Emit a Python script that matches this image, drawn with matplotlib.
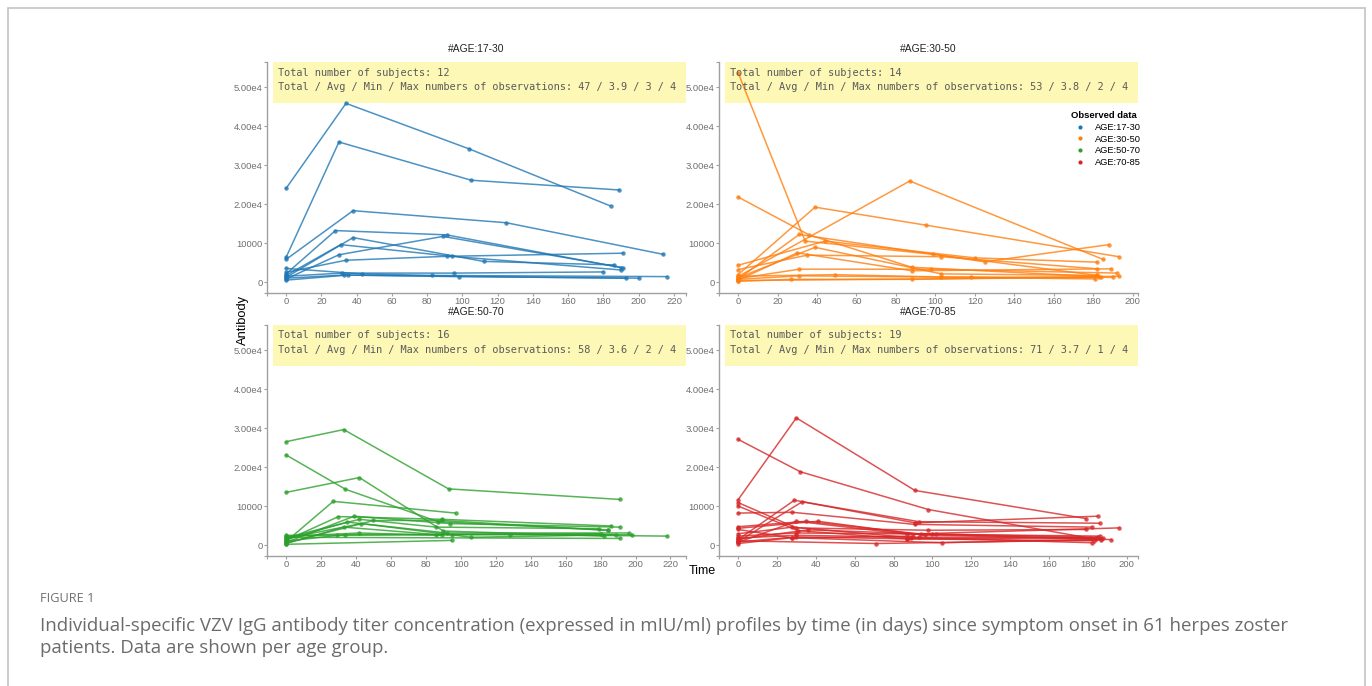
import matplotlib
matplotlib.use('Agg')
import matplotlib.pyplot as plt
from matplotlib.lines import Line2D
from matplotlib.patches import Rectangle
from matplotlib.ticker import MultipleLocator, FuncFormatter

plt.rcParams['font.family'] = ['Liberation Sans', 'DejaVu Sans']

groups = ['AGE:17-30', 'AGE:30-50', 'AGE:50-70', 'AGE:70-85']
colors = ['#1f77b4', '#ff7f0e', '#2ca02c', '#d62728']

# days since symptom onset / IgG titer (mIU/ml), one inner list per subject
days_17_30 = [[0, 34, 104, 184], [0, 30, 105, 189], [0, 38, 125, 214], [0, 28, 91, 190],
              [0, 38, 112, 186], [0, 31, 94, 190], [0, 30, 89, 191], [0, 34, 91, 191],
              [0, 32, 95, 180], [0, 35, 98, 200], [0, 43, 83, 216], [0, 33, 193]]
igg_17_30 = [[24100, 45900, 34200, 19600], [6400, 36000, 26200, 23700], [5900, 18400, 15300, 7200],
             [2200, 13300, 12200, 3800], [1300, 11500, 5400, 4500], [1800, 9700, 6700, 3200],
             [900, 7100, 11800, 3800], [2600, 5700, 6700, 7500], [1600, 2400, 2400, 2700],
             [600, 1900, 1500, 1100], [3600, 2200, 1800, 1500], [1100, 1900, 1100]]

days_30_50 = [[0, 34, 99, 182], [0, 36, 88, 183], [0, 87, 185], [0, 39, 95, 193],
              [0, 31, 125, 188], [0, 44, 120, 182], [0, 35, 103, 182], [0, 30, 88, 189],
              [0, 31, 98, 192], [0, 49, 103, 190], [0, 31, 118, 181], [0, 27, 88, 193],
              [0, 39, 103, 182], [0, 184]]
igg_30_50 = [[53800, 10600, 7200, 1800], [21900, 12200, 3900, 1500], [1500, 26000, 5900],
             [2000, 19300, 14700, 6600], [900, 12300, 5300, 9700], [4400, 10600, 6300, 5200],
             [3300, 7000, 6600, 3500], [600, 7600, 3000, 3500], [1000, 3400, 3400, 2400],
             [1600, 2000, 1400, 1300], [800, 1700, 1300, 900], [300, 800, 800, 1600],
             [1200, 9000, 2200, 1800], [500, 1300]]

days_50_70 = [[0, 33, 93, 191], [0, 34, 87, 184], [0, 42, 90, 182], [0, 27, 97],
              [0, 95], [0, 30, 89, 186], [0, 39, 94, 191], [0, 42, 86, 179],
              [0, 35, 92, 196], [0, 50, 89, 184], [0, 43, 106, 198], [0, 33, 86, 180],
              [0, 29, 95, 189], [0, 34, 128, 218], [0, 42, 89], [0, 191]]
igg_50_70 = [[26600, 29700, 14500, 11800], [23200, 14400, 6100, 3900], [13600, 17400, 3700, 2400],
             [1000, 11300, 8300], [300, 1300], [1300, 7400, 6700, 5000],
             [800, 7500, 5600, 4700], [2000, 6700, 4700, 4300], [1500, 6000, 3200, 3200],
             [600, 6400, 6400, 3900], [1800, 5600, 2100, 2800], [500, 4700, 2800, 3000],
             [2600, 2600, 2800, 2800], [1100, 2800, 2800, 2400], [2300, 3200, 2600], [2100, 1800]]

days_70_85 = [[0, 32, 98, 184], [0, 30, 91, 179], [0, 29, 91, 185], [0, 33, 93, 186],
              [0, 28, 91, 182], [0, 30, 87, 196], [0, 30, 98, 179], [0, 31, 87, 184],
              [0, 35, 94, 186], [0, 41, 96, 188], [0, 28, 89, 182], [0, 30, 102, 185],
              [0, 28, 105, 187], [0, 36, 100, 192], [0, 30, 87, 183], [0, 71, 187],
              [0, 28, 90], [0], [0, 30, 93, 181]]
igg_70_85 = [[27200, 18900, 9200, 1600], [11700, 32700, 14100, 6900], [1500, 11600, 5800, 7500],
             [1000, 11200, 6100, 5700], [8300, 8500, 5400, 4700], [800, 6200, 2900, 4500],
             [11000, 4500, 3900, 4100], [10100, 3800, 1700, 2000], [4800, 6200, 2900, 2400],
             [4400, 6200, 2600, 1800], [3000, 4700, 2000, 700], [2400, 3200, 2900, 2100],
             [500, 2000, 700, 1600], [1600, 4000, 2900, 1500], [900, 2200, 1700, 1200],
             [1200, 500, 1400], [4100, 1900, 2400], [2000], [1900, 2600, 2100, 1900]]

all_days = [days_17_30, days_30_50, days_50_70, days_70_85]
all_igg = [igg_17_30, igg_30_50, igg_50_70, igg_70_85]

W, H = 1372, 686
fig = plt.figure(figsize=(W / 100, H / 100), dpi=100)

# page frame
fig.patches.append(Rectangle((8 / W, -0.05), 1357 / W, 1 - 8 / H + 0.05, transform=fig.transFigure,
                             fill=False, edgecolor='#c4c4c4', linewidth=1.2))

# panel origins (left, top) in pixels
origins = [(267, 62), (719, 62), (267, 325), (719, 325)]
pw, ph = 419, 231


def fmt_y(v, pos):
    if v == 0:
        return '0'
    if abs(v - 10000) < 1:
        return '10000'
    return '%.2fe4' % (v / 1e4)


for i in range(4):
    l, t = origins[i]
    ax = fig.add_axes([l / W, 1 - (t + ph) / H, pw / W, ph / H])
    col = colors[i]
    for d, v in zip(all_days[i], all_igg[i]):
        ax.plot(d, v, '-o', color=col, lw=1.1, ms=3.2, alpha=0.8, mew=0, zorder=3)

    ax.set_ylim(-2700, 56500)
    ax.margins(x=0.05)
    ax.xaxis.set_major_locator(MultipleLocator(20))
    ax.set_yticks([0, 10000, 20000, 30000, 40000, 50000])
    ax.yaxis.set_major_formatter(FuncFormatter(fmt_y))
    x0, x1 = ax.get_xlim()
    ax.set_xlim(x0, x1)
    ax.set_xticks([x0, x1], minor=True)
    ax.set_yticks([-2700, 56500], minor=True)

    for s in ['top', 'right']:
        ax.spines[s].set_visible(False)
    for s in ['left', 'bottom']:
        ax.spines[s].set_color('#a0a0a0')
        ax.spines[s].set_linewidth(1.0)
    ax.tick_params(which='both', length=2.2, width=0.8, color='#a0a0a0',
                   labelsize=6.8, labelcolor='#707070', pad=1.0)
    ax.set_title('#' + groups[i], fontsize=7.4, color='#222222', pad=7)

    # summary box
    n_sub = len(all_days[i])
    counts = [len(d) for d in all_days[i]]
    ax.add_patch(Rectangle((6 / pw, 1 - 41 / ph), 1 - 6 / pw, 41 / ph, transform=ax.transAxes,
                           facecolor='#fdf8b6', edgecolor='none', zorder=1, clip_on=False))
    ax.text(11 / pw, 1 - 10.5 / ph, 'Total number of subjects: %d' % n_sub, transform=ax.transAxes,
            family='DejaVu Sans Mono', fontsize=7.4, color='#5a5a5a', va='center', zorder=5)
    ax.text(11 / pw, 1 - 25 / ph,
            'Total / Avg / Min / Max numbers of observations: %d / %.1f / %d / %d'
            % (sum(counts), sum(counts) / n_sub, min(counts), max(counts)),
            transform=ax.transAxes, family='DejaVu Sans Mono', fontsize=7.4,
            color='#5a5a5a', va='center', zorder=5)

handles = [Line2D([], [], marker='o', ls='', color=c, ms=3, mew=0) for c in colors]
leg = fig.legend(handles, groups, title='Observed data', loc='upper left',
                 bbox_to_anchor=(1071 / W, 1 - 111 / H), frameon=False, fontsize=6.7,
                 title_fontproperties={'weight': 'bold', 'size': 6.8}, alignment='left',
                 handlelength=2.0, handletextpad=0.6, labelspacing=0.3, borderpad=0,
                 borderaxespad=0)

fig.text(243 / W, 1 - 320 / H, 'Antibody', rotation=90, ha='center', va='center', fontsize=9.3)
fig.text(702 / W, 1 - 571 / H, 'Time', ha='center', va='center', fontsize=9)

fig.text(40 / W, 1 - 599 / H, 'FIGURE 1', family='Open Sans', fontsize=9.2, color='#707070',
         va='center')
fig.text(40 / W, 1 - 626 / H,
         'Individual-specific VZV IgG antibody titer concentration (expressed in mIU/ml) profiles '
         'by time (in days) since symptom onset in 61 herpes zoster',
         family='Open Sans', fontsize=13.45, color='#6b6b6b', va='center')
fig.text(40 / W, 1 - 648 / H, 'patients. Data are shown per age group.',
         family='Open Sans', fontsize=13.45, color='#6b6b6b', va='center')

fig.savefig('out.png', dpi=100)
